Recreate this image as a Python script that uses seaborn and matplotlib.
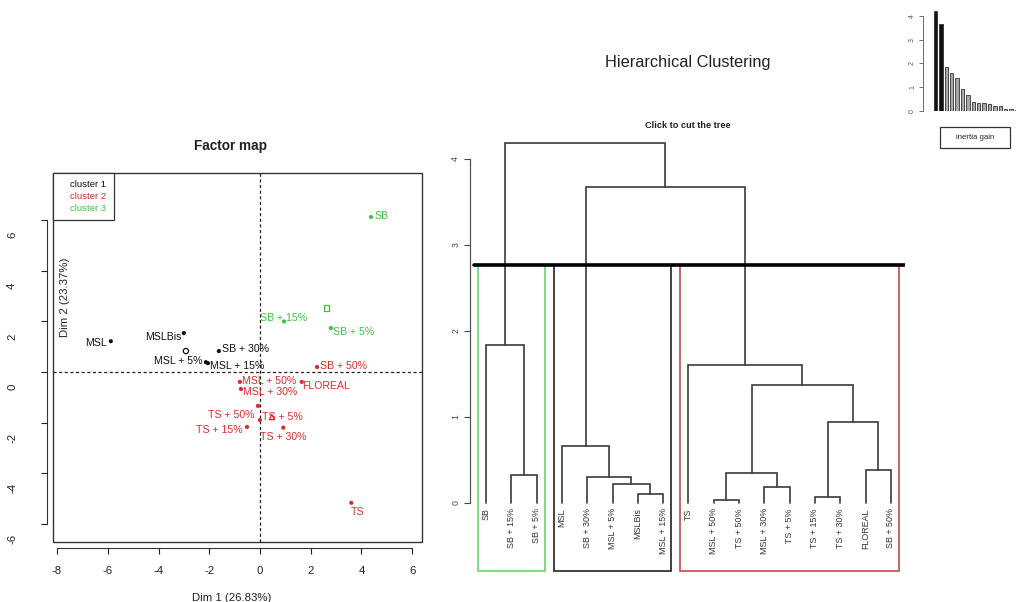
import matplotlib
matplotlib.use("Agg")
import matplotlib.pyplot as plt
from matplotlib.patches import Rectangle
from matplotlib.lines import Line2D
import pandas as pd
import seaborn as sns

# ---- individuals on the first factorial plane ----
labels = ["SB", "SB + 15%", "SB + 5%", "MSL", "MSLBis", "SB + 30%", "MSL + 5%",
          "MSL + 15%", "SB + 50%", "MSL + 50%", "FLOREAL", "MSL + 30%",
          "TS + 50%", "TS + 5%", "TS + 15%", "TS + 30%", "TS"]
dim1 = [4.38, 0.95, 2.80, -5.88, -3.00, -1.62, -2.13, -2.05, 2.25, -0.79, 1.65,
        -0.75, -0.08, 0.00, -0.51, 0.92, 3.60]
dim2 = [6.13, 2.00, 1.74, 1.22, 1.54, 0.83, 0.39, 0.35, 0.20, -0.39, -0.39,
        -0.67, -1.34, -1.90, -2.17, -2.20, -5.17]
cluster = [3, 3, 3, 1, 1, 1, 1, 1, 2, 2, 2, 2, 2, 2, 2, 2, 2]

cluster_names = ["cluster 1", "cluster 2", "cluster 3"]
center_dim1 = [-2.92, 0.47, 2.64]
center_dim2 = [0.83, -1.78, 2.53]

# ---- hierarchical tree ----
leaf_order = ["SB", "SB + 15%", "SB + 5%", "MSL", "SB + 30%", "MSL + 5%", "MSLBis",
              "MSL + 15%", "TS", "MSL + 50%", "TS + 50%", "MSL + 30%", "TS + 5%",
              "TS + 15%", "TS + 30%", "FLOREAL", "SB + 50%"]
merge_left = ["MSL + 50%", "TS + 15%", "MSLBis", "MSL + 30%", "MSL + 5%", "SB + 30%",
              "SB + 15%", "m0", "FLOREAL", "MSL", "m1", "m7", "TS", "SB", "m9", "m13"]
merge_right = ["TS + 50%", "TS + 30%", "MSL + 15%", "TS + 5%", "m2", "m4", "SB + 5%",
               "m3", "SB + 50%", "m5", "m8", "m10", "m11", "m6", "m12", "m14"]
merge_height = [0.04, 0.07, 0.10, 0.19, 0.22, 0.30, 0.33, 0.35, 0.38, 0.66, 0.94,
                1.37, 1.60, 1.84, 3.67, 4.19]
cut_height = 2.77

inertia_gain = [4.19, 3.67, 1.84, 1.60, 1.37, 0.94, 0.66, 0.38, 0.35, 0.33, 0.30,
                0.22, 0.19, 0.10, 0.07, 0.04]
n_groups = 3

# ---- styling ----
sns.set_style("white")
plt.rcParams["font.family"] = ["Liberation Sans", "DejaVu Sans"]
plt.rcParams["axes.unicode_minus"] = False

cluster_colors = {1: "#111111", 2: "#DD2A2A", 3: "#3CC43C"}
rect_colors = {1: "#333333", 2: "#C25A5A", 3: "#74D874"}
tree_color = "#3A3A3A"

W, H = 1016, 602
fig = plt.figure(figsize=(W / 100, H / 100), dpi=100)


def px_axes(left, top, right, bottom):
    return fig.add_axes([left / W, 1 - bottom / H, (right - left) / W, (bottom - top) / H])


# =========================== Factor map ===========================
ax = px_axes(53, 173, 422, 542)
df = pd.DataFrame({"label": labels, "Dim 1": dim1, "Dim 2": dim2,
                   "cluster": [cluster_names[c - 1] for c in cluster]})
palette = {cluster_names[k - 1]: v for k, v in cluster_colors.items()}

ax.axhline(0, color="#222222", lw=0.9, ls=(0, (2.5, 2)), zorder=1)
ax.axvline(0, color="#222222", lw=0.9, ls=(0, (2.5, 2)), zorder=1)
sns.scatterplot(data=df, x="Dim 1", y="Dim 2", hue="cluster", palette=palette,
                s=9, edgecolor="none", legend=False, ax=ax, zorder=3)

center_markers = ["o", "^", "s"]
for k in range(3):
    ax.scatter(center_dim1[k], center_dim2[k], marker=center_markers[k], s=14,
               facecolor="none", edgecolor=cluster_colors[k + 1], linewidth=0.9, zorder=3)

# label placement (offset in pixels, horizontal alignment)
label_pos = {
    "SB": (3, 1, "left"), "SB + 15%": (0, 3, "center"), "SB + 5%": (2, -4, "left"),
    "MSL": (-4, -2, "right"), "MSLBis": (-2, -4, "right"), "SB + 30%": (3, 2, "left"),
    "MSL + 5%": (-3, 1, "right"), "MSL + 15%": (2, -3, "left"),
    "SB + 50%": (3, 1, "left"), "MSL + 50%": (2, 1, "left"), "FLOREAL": (0, -4, "left"),
    "MSL + 30%": (2, -3, "left"), "TS + 50%": (-3, -9, "right"),
    "TS + 5%": (2, 3, "left"), "TS + 15%": (-4, -3, "right"),
    "TS + 30%": (-23, -9, "left"), "TS": (6, -9, "center"),
}
for lab, x, y, c in zip(labels, dim1, dim2, cluster):
    dx, dy, ha = label_pos[lab]
    ax.annotate(lab, xy=(x, y), xytext=(dx, dy), textcoords="offset pixels",
                ha=ha, va="center", fontsize=7.6, color=cluster_colors[c], zorder=4)

ax.set_xlim(-8.16, 6.39)
ax.set_ylim(-6.72, 7.87)
ax.set_xticks(range(-8, 7, 2))
ax.set_yticks(range(-6, 7, 2))
ax.set_xticklabels([str(v) for v in range(-8, 7, 2)])
ax.set_xlabel("")
ax.set_ylabel("")
ax.tick_params(axis="x", direction="out", length=4, width=0.8, pad=9, labelsize=8.2,
               bottom=True, colors="#222222")
ax.tick_params(axis="y", direction="out", length=4, width=0.8, left=True,
               labelleft=False, colors="#222222")
for side in ["top", "right"]:
    ax.spines[side].set_visible(False)
ax.spines["left"].set_position(("outward", 4.5))
ax.spines["bottom"].set_position(("outward", 4))
ax.spines["left"].set_bounds(-6, 6)
ax.spines["bottom"].set_bounds(-8, 6)
for side in ["left", "bottom"]:
    ax.spines[side].set_linewidth(0.8)
    ax.spines[side].set_color("#333333")
ax.add_patch(Rectangle((0, 0), 1, 1, transform=ax.transAxes, fill=False,
                       edgecolor="#333333", lw=1.0, clip_on=False, zorder=5))
for v in range(-6, 7, 2):
    ax.annotate(str(v), xy=(0, v), xycoords=("axes fraction", "data"),
                xytext=(-41, -15), textcoords="offset pixels", rotation=90,
                ha="center", va="center", fontsize=8.2, color="#222222",
                annotation_clip=False)

handles = [Line2D([], [], linestyle="none", marker=None) for _ in cluster_names]
leg = ax.legend(handles, cluster_names, loc="upper left", bbox_to_anchor=(0, 1),
                borderaxespad=0, handlelength=1.1, handletextpad=0.0, fancybox=False,
                framealpha=1, edgecolor="#333333", fontsize=6.8,
                labelspacing=0.3, borderpad=0.75,
                labelcolor=[cluster_colors[k] for k in (1, 2, 3)])
leg.get_frame().set_linewidth(0.9)

fig.text(231 / W, 1 - 146 / H, "Factor map", ha="center", va="center",
         fontsize=9.8, fontweight="bold", color="#222222")
fig.text(232 / W, 1 - 598 / H, "Dim 1 (26.83%)", ha="center", va="center",
         fontsize=8.2, color="#222222")
fig.text(65 / W, 1 - 297 / H, "Dim 2 (23.37%)", ha="center", va="center",
         rotation=90, fontsize=8.2, color="#222222")

# =========================== Dendrogram ===========================
axd = px_axes(470, 116, 905, 576)
node_x = {name: i for i, name in enumerate(leaf_order)}
node_h = {name: 0.0 for name in leaf_order}
for i, (a, b, h) in enumerate(zip(merge_left, merge_right, merge_height)):
    xa, xb = node_x[a], node_x[b]
    axd.plot([xa, xa, xb, xb], [node_h[a], h, h, node_h[b]], color=tree_color,
             lw=1.2, solid_joinstyle="miter", zorder=2)
    node_x[f"m{i}"] = (xa + xb) / 2
    node_h[f"m{i}"] = h

for i, name in enumerate(leaf_order):
    axd.text(i, -0.06, name, rotation=90, ha="center", va="top", fontsize=6.4,
             color="#333333")

leaf_cluster = [cluster[labels.index(name)] for name in leaf_order]
start = 0
for i in range(1, len(leaf_order) + 1):
    if i == len(leaf_order) or leaf_cluster[i] != leaf_cluster[start]:
        c = leaf_cluster[start]
        axd.add_patch(Rectangle((start - 0.32, -0.79), (i - 1 - start) + 0.64,
                                cut_height + 0.79, fill=False, edgecolor=rect_colors[c],
                                lw=1.3, zorder=3, clip_on=False))
        start = i

axd.axhline(cut_height, xmin=0.01, xmax=1, color="black", lw=2.6, zorder=4)

axd.set_xlim(-0.632, 16.56)
axd.set_ylim(-0.849, 4.5)
axd.set_yticks(range(0, 5))
axd.set_xticks([])
for side in ["top", "right", "bottom"]:
    axd.spines[side].set_visible(False)
axd.spines["left"].set_bounds(0, 4)
axd.spines["left"].set_color("#555555")
axd.spines["left"].set_linewidth(0.9)
axd.tick_params(axis="y", direction="out", length=4, width=0.8, left=True,
                labelsize=6.2, colors="#444444", pad=3)
for t in axd.get_yticklabels():
    t.set_rotation(90)
    t.set_va("center")

fig.text(688 / W, 1 - 126 / H, "Click to cut the tree", ha="center", va="center",
         fontsize=6.6, fontweight="bold", color="#222222")
fig.text(688 / W, 1 - 63 / H, "Hierarchical Clustering", ha="center", va="center",
         fontsize=11.8, color="#222222")

# =========================== Inertia gain ===========================
axi = px_axes(923, 11, 1016, 111)
bar_df = pd.DataFrame({"step": range(len(inertia_gain)), "gain": inertia_gain,
                       "kind": ["kept" if i < n_groups - 1 else "rest"
                                for i in range(len(inertia_gain))]})
sns.barplot(data=bar_df, x="step", y="gain", hue="kind",
            palette={"kept": "#111111", "rest": "#A8A8A8"}, edgecolor="#333333",
            linewidth=0.6, width=0.62, legend=False, ax=axi)
axi.set_xlim(-2.31, 14.91)
axi.set_ylim(0, 4.21)
axi.set_xticks([])
axi.set_yticks(range(0, 5))
axi.set_xlabel("")
axi.set_ylabel("")
for side in ["top", "right", "bottom"]:
    axi.spines[side].set_visible(False)
axi.spines["left"].set_bounds(0, 4)
axi.spines["left"].set_linewidth(0.7)
axi.spines["left"].set_color("#666666")
axi.tick_params(axis="y", direction="out", length=3, width=0.6, left=True,
                labelsize=5, colors="#555555", pad=2)
for t in axi.get_yticklabels():
    t.set_rotation(90)
    t.set_va("center")

fig.patches.append(Rectangle((940 / W, 1 - 148 / H), 70 / W, 21 / H, fill=False,
                             edgecolor="#333333", lw=0.9, transform=fig.transFigure))
fig.text(975 / W, 1 - 137.5 / H, "inertia gain", ha="center", va="center",
         fontsize=5.6, color="#222222")

fig.savefig("out.png", dpi=100)
